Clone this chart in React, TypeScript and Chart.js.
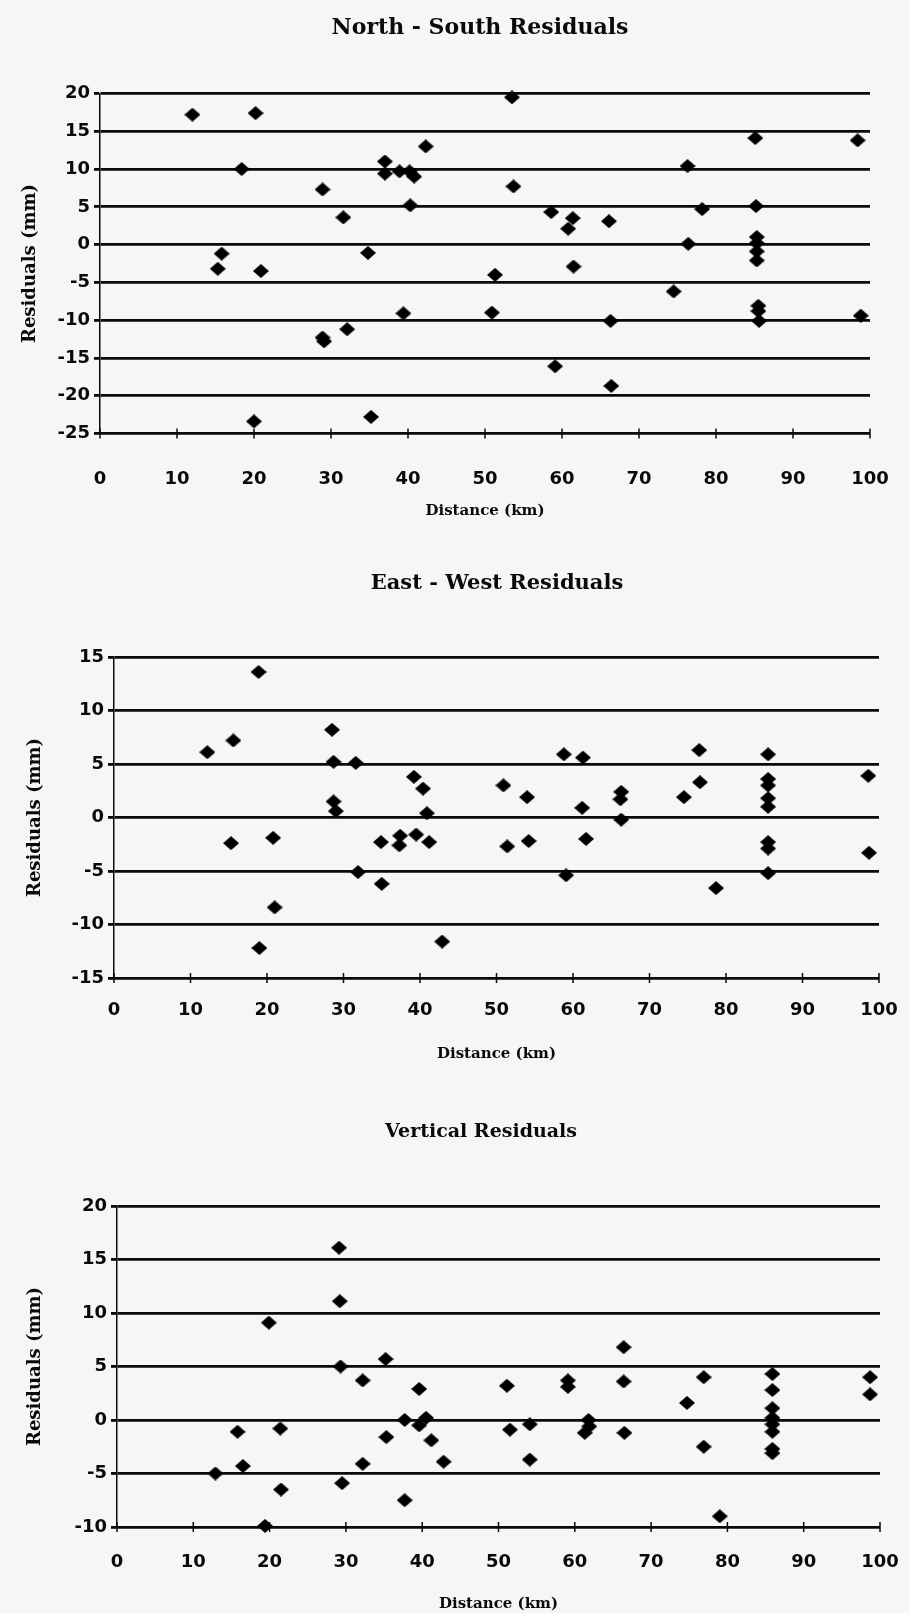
import React, { useEffect, useRef } from 'react';
import { Chart, registerables } from 'chart.js';

Chart.register(...registerables);

// ---------- data ----------
const distanceTicks = [0, 10, 20, 30, 40, 50, 60, 70, 80, 90, 100];

const nsTicks = [20, 15, 10, 5, 0, -5, -10, -15, -20, -25];
const nsDistance = [
  12.0, 20.2, 18.4, 15.8, 15.3, 20.9, 28.9, 31.6, 37.0, 37.0, 38.9, 40.2, 40.8, 42.3, 40.3, 34.8,
  39.4, 32.1, 28.9, 29.1, 20.0, 35.2,
  53.5, 85.1, 98.4, 76.3, 53.7, 58.6, 61.4, 60.8, 66.1, 78.2, 85.2, 76.4,
  85.3, 85.3, 85.3, 85.3, 51.3, 61.5, 74.5, 50.9, 66.3, 85.5, 85.5, 85.6, 98.8, 59.1, 66.4,
];
const nsResidual = [
  17.2, 17.4, 10.0, -1.2, -3.2, -3.5, 7.3, 3.6, 11.0, 9.4, 9.7, 9.7, 9.0, 13.0, 5.2, -1.1,
  -9.1, -11.2, -12.3, -12.8, -23.4, -22.8,
  19.5, 14.1, 13.8, 10.4, 7.7, 4.3, 3.5, 2.1, 3.1, 4.7, 5.1, 0.1,
  1.0, 0.2, -0.9, -2.1, -4.0, -2.9, -6.2, -9.0, -10.1, -8.1, -8.8, -10.1, -9.4, -16.1, -18.7,
];

const ewTicks = [15, 10, 5, 0, -5, -10, -15];
const ewDistance = [
  18.9, 12.2, 15.6, 28.5, 28.7, 31.6, 39.2, 40.4, 28.7, 29.0, 40.9, 15.3, 20.8, 34.9, 37.4, 37.3,
  39.5, 41.2, 31.9, 35.0, 21.0, 19.0, 42.9,
  50.9, 54.0, 51.4, 54.2, 58.8, 61.3, 61.2, 61.7, 59.1, 66.3, 66.2, 66.3, 74.5, 76.5, 76.6, 78.7,
  85.5, 85.5, 85.5, 85.5, 85.5, 85.5, 85.5, 85.5, 98.6, 98.7,
];
const ewResidual = [
  13.6, 6.1, 7.2, 8.2, 5.2, 5.1, 3.8, 2.7, 1.5, 0.6, 0.4, -2.4, -1.9, -2.3, -1.7, -2.6,
  -1.6, -2.3, -5.1, -6.2, -8.4, -12.2, -11.6,
  3.0, 1.9, -2.7, -2.2, 5.9, 5.6, 0.9, -2.0, -5.4, 2.4, 1.7, -0.2, 1.9, 6.3, 3.3, -6.6,
  5.9, 3.6, 3.0, 1.8, 1.0, -2.3, -2.9, -5.2, 3.9, -3.3,
];

const vtTicks = [20, 15, 10, 5, 0, -5, -10];
const vtDistance = [
  29.1, 29.2, 19.9, 29.3, 35.2, 32.2, 39.6, 37.7, 40.5, 39.6, 41.2, 42.8, 35.3, 15.8, 21.4, 16.5,
  12.9, 21.5, 32.2, 29.5, 37.7, 19.4,
  51.1, 51.5, 54.1, 54.1, 59.1, 59.1, 61.8, 61.9, 61.3, 66.4, 66.4, 66.5, 74.7, 76.9, 76.9, 79.0,
  85.9, 85.9, 85.9, 85.9, 85.9, 85.9, 85.9, 85.9, 98.7, 98.7,
];
const vtResidual = [
  16.1, 11.1, 9.1, 5.0, 5.7, 3.7, 2.9, 0.0, 0.2, -0.5, -1.9, -3.9, -1.6, -1.1, -0.8, -4.3,
  -5.0, -6.5, -4.1, -5.9, -7.5, -9.9,
  3.2, -0.9, -0.4, -3.7, 3.7, 3.1, 0.0, -0.6, -1.2, 6.8, 3.6, -1.2, 1.6, 4.0, -2.5, -9.0,
  4.3, 2.8, 1.1, 0.2, -0.4, -1.1, -2.7, -3.1, 4.0, 2.4,
];

// ---------- layout of the three panels ----------
type Spec = {
  title: string;
  titleSize: number;
  distance: number[];
  residual: number[];
  yTicks: number[];
  top: number;
  height: number;
  areaTop: number;
  areaBottom: number;
  areaLeft: number;
  areaRight: number;
  titleX: number;
  titleY: number;
  xTickGap: number;
  xTitlePad: number;
  yTitlePad: number;
};

const specs: Spec[] = [
  {
    title: 'North - South Residuals', titleSize: 22, distance: nsDistance, residual: nsResidual, yTicks: nsTicks,
    top: 0, height: 540, areaTop: 93.5, areaBottom: 433.5, areaLeft: 100, areaRight: 870,
    titleX: 480, titleY: 28, xTickGap: 35, xTitlePad: 20, yTitlePad: 20,
  },
  {
    title: 'East - West Residuals', titleSize: 21, distance: ewDistance, residual: ewResidual, yTicks: ewTicks,
    top: 540, height: 540, areaTop: 117, areaBottom: 438, areaLeft: 114, areaRight: 879,
    titleX: 497, titleY: 44, xTickGap: 22, xTitlePad: 17, yTitlePad: 25,
  },
  {
    title: 'Vertical Residuals', titleSize: 19, distance: vtDistance, residual: vtResidual, yTicks: vtTicks,
    top: 1080, height: 533, areaTop: 126, areaBottom: 447, areaLeft: 117, areaRight: 880,
    titleX: 481, titleY: 52, xTickGap: 24.5, xTitlePad: 0, yTitlePad: 25,
  },
];

const INK = '#0a0a0a';
const TICK_FONT = { family: '"DejaVu Sans", sans-serif', weight: 'bold' as const, size: 18 };
const X_TITLE_FONT = { family: '"DejaVu Serif", serif', weight: 'bold' as const, size: 15 };
const Y_TITLE_FONT = { family: '"DejaVu Serif", serif', weight: 'bold' as const, size: 18 };

function makeDiamond(): HTMLCanvasElement {
  const c = document.createElement('canvas');
  c.width = 16;
  c.height = 14;
  const g = c.getContext('2d')!;
  g.fillStyle = '#000';
  g.beginPath();
  g.moveTo(8, 0);
  g.lineTo(16, 7);
  g.lineTo(8, 14);
  g.lineTo(0, 7);
  g.closePath();
  g.fill();
  return c;
}

const pageTitlePlugin = {
  id: 'pageTitle',
  afterDraw(chart: any, _args: any, opts: any) {
    const { ctx } = chart;
    ctx.save();
    ctx.font = `bold ${opts.size}px "DejaVu Serif", serif`;
    ctx.fillStyle = INK;
    ctx.textAlign = 'center';
    ctx.textBaseline = 'middle';
    ctx.fillText(opts.text, opts.x, opts.y);
    ctx.restore();
  },
};

const crossTicksPlugin = {
  id: 'crossTicks',
  afterDatasetsDraw(chart: any) {
    const { ctx, chartArea } = chart;
    const xs = chart.scales.x;
    ctx.save();
    ctx.strokeStyle = INK;
    ctx.lineWidth = 1.5;
    ctx.beginPath();
    for (const t of xs.ticks) {
      const px = xs.getPixelForValue(t.value);
      ctx.moveTo(px, chartArea.bottom - 5);
      ctx.lineTo(px, chartArea.bottom + 5);
    }
    ctx.stroke();
    ctx.restore();
  },
};

function ResidualChart({ spec }: { spec: Spec }) {
  const ref = useRef<HTMLCanvasElement | null>(null);
  useEffect(() => {
    const canvas = ref.current;
    if (!canvas) return;
    const diamond = makeDiamond();
    const points = spec.distance.map((d, i) => ({ x: d, y: spec.residual[i] }));
    const yMin = Math.min(...spec.yTicks);
    const yMax = Math.max(...spec.yTicks);
    const chart = new Chart(canvas, {
      type: 'scatter',
      data: {
        datasets: [
          {
            data: points,
            pointStyle: diamond as any,
            pointRadius: 7,
            backgroundColor: '#000',
            borderColor: '#000',
            clip: false as any,
          },
        ],
      },
      options: {
        animation: false,
        responsive: false,
        events: [],
        layout: {
          padding: { left: 0, right: 909 - spec.areaRight, top: spec.areaTop, bottom: 0 },
        },
        plugins: {
          legend: { display: false },
          tooltip: { enabled: false },
          title: { display: false },
          pageTitle: { text: spec.title, x: spec.titleX, y: spec.titleY, size: spec.titleSize },
        } as any,
        scales: {
          x: {
            type: 'linear',
            min: 0,
            max: 100,
            afterBuildTicks: (s: any) => {
              s.ticks = distanceTicks.map((v) => ({ value: v }));
            },
            afterFit: (s: any) => {
              s.height = spec.height - spec.areaBottom;
            },
            ticks: { font: TICK_FONT, color: INK, padding: 0, maxRotation: 0, autoSkip: false },
            grid: {
              display: true,
              drawOnChartArea: false,
              drawTicks: true,
              tickLength: spec.xTickGap,
              color: 'rgba(0,0,0,0)',
            },
            border: { display: false },
            title: {
              display: true,
              text: 'Distance (km)',
              font: X_TITLE_FONT,
              color: INK,
              padding: { top: 0, bottom: spec.xTitlePad },
            },
          },
          y: {
            type: 'linear',
            min: yMin,
            max: yMax,
            afterBuildTicks: (s: any) => {
              s.ticks = [...spec.yTicks].sort((a, b) => a - b).map((v) => ({ value: v }));
            },
            afterFit: (s: any) => {
              s.width = spec.areaLeft;
            },
            ticks: { font: TICK_FONT, color: INK, padding: 4, autoSkip: false },
            grid: { color: INK, lineWidth: 2.8, drawTicks: true, tickLength: 6 },
            border: { display: true, color: INK, width: 1.5 },
            title: {
              display: true,
              text: 'Residuals (mm)',
              font: Y_TITLE_FONT,
              color: INK,
              padding: { top: spec.yTitlePad, bottom: 0 },
            },
          },
        },
      },
      plugins: [pageTitlePlugin, crossTicksPlugin],
    } as any);
    return () => chart.destroy();
  }, [spec]);

  return (
    <canvas
      ref={ref}
      width={909}
      height={spec.height}
      style={{ position: 'absolute', left: 0, top: spec.top, width: 909, height: spec.height }}
    />
  );
}

export default function App() {
  return (
    <div
      style={{
        position: 'absolute',
        left: 0,
        top: 0,
        width: 909,
        height: 1613,
        background: '#f6f6f6',
        overflow: 'hidden',
      }}
    >
      {specs.map((s) => (
        <ResidualChart key={s.title} spec={s} />
      ))}
    </div>
  );
}
